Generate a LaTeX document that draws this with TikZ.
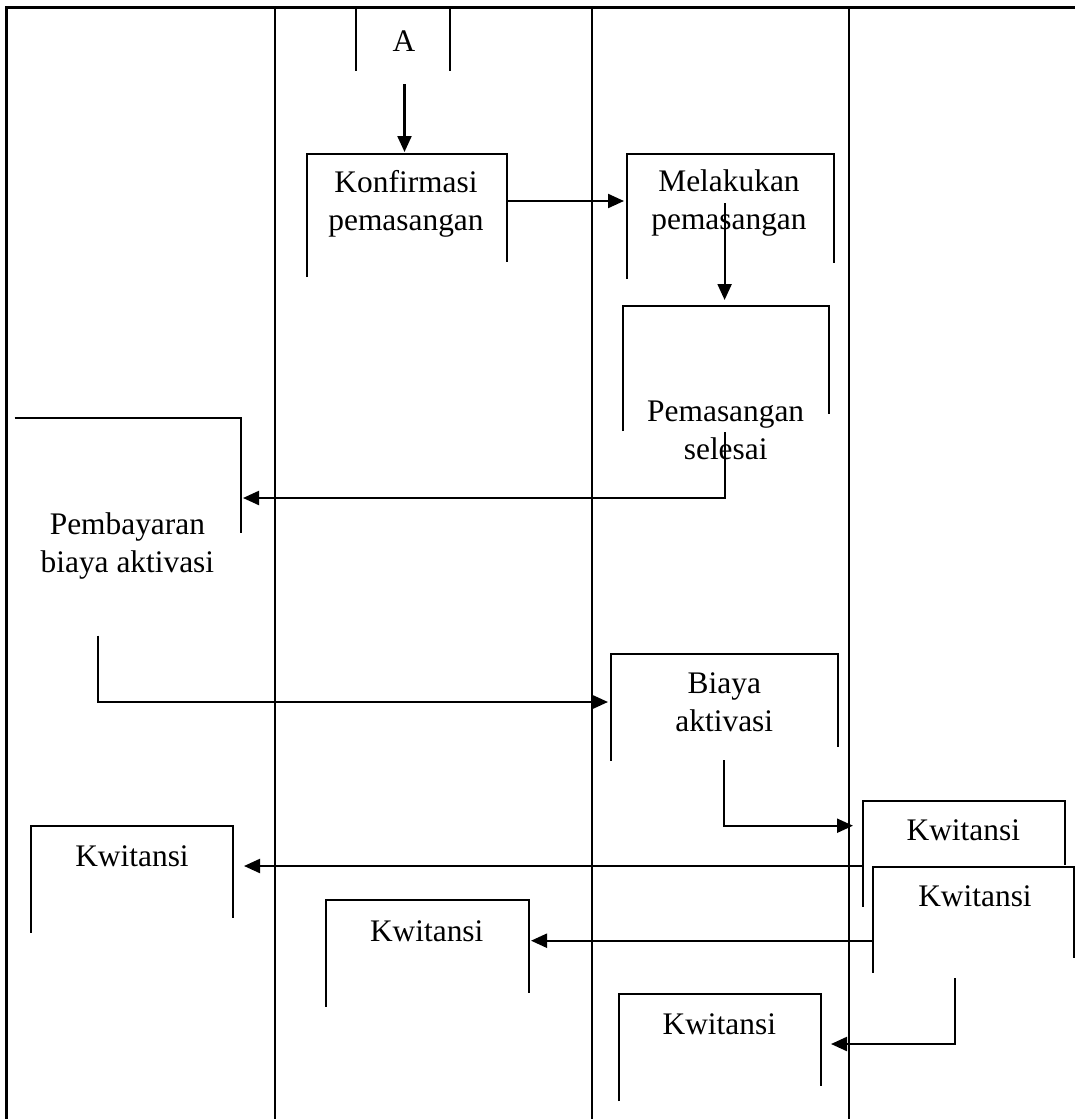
\documentclass[tikz,border=0pt]{standalone}
\usepackage{fontspec}
\setmainfont{Liberation Serif}
\usetikzlibrary{arrows.meta}
\begin{document}
\begin{tikzpicture}[x=1pt,y=-1pt,
  frame/.style={line width=3pt},
  lane/.style={line width=2.4pt},
  boxline/.style={line width=2pt},
  flow/.style={line width=2.2pt,-{Triangle[length=16pt,width=14pt]}},
  lbl/.style={font=\fontsize{31.4}{38}\selectfont, align=center, inner sep=0pt, anchor=base}]
\useasboundingbox (0,0) rectangle (1075,1119);
% frame and lanes
\draw[frame] (6.5,1119) -- (6.5,7) -- (1075,7);
\draw[lane] (275,7) -- (275,1119);
\draw[lane] (592,7) -- (592,1119);
\draw[lane] (849,7) -- (849,1119);
% off-page connector A
\draw[boxline] (356,7) -- (356,71);
\draw[boxline] (450,7) -- (450,71);
\node[lbl] (tA) at (404,51.7) {A};
% Konfirmasi pemasangan
\draw[boxline] (307,277) -- (307,153.5) -- (507,153.5) -- (507,262);
\node[lbl] (tKonf) at (406,230.7) {Konfirmasi\\pemasangan};
% Melakukan pemasangan
\draw[boxline] (627,279) -- (627,153.5) -- (834,153.5) -- (834,262.5);
\node[lbl] (tMel) at (729,229.7) {Melakukan\\pemasangan};
% Pemasangan selesai
\draw[boxline] (622.7,431) -- (622.7,305.7) -- (829.3,305.7) -- (829.3,414);
\node[lbl] (tSel) at (725.7,459.7) {Pemasangan\\selesai};
% Pembayaran biaya aktivasi
\draw[boxline] (14.5,417.7) -- (241,417.7) -- (241,532.7);
\node[lbl] (tBayar) at (127.4,572) {Pembayaran\\biaya aktivasi};
% Biaya aktivasi
\draw[boxline] (611,760.7) -- (611,654) -- (837.7,654) -- (837.7,746.7);
\node[lbl] (tBiaya) at (724.3,731) {Biaya\\aktivasi};
% Kwitansi right 1
\draw[boxline] (863.3,906.7) -- (863.3,800.7) -- (1065,800.7) -- (1065,865);
\node[lbl] (tKw1) at (963.3,840.7) {Kwitansi};
% Kwitansi right 2 (on top)
\fill[white] (873.3,866.7) rectangle (1074.3,972.7);
\draw[boxline] (873.3,972.7) -- (873.3,866.7) -- (1074.3,866.7) -- (1074.3,958);
\node[lbl] (tKw2) at (975,906.7) {Kwitansi};
% Kwitansi left
\draw[boxline] (30.6,932.7) -- (30.6,826) -- (232.7,826) -- (232.7,918.3);
\node[lbl] (tKwL) at (132,866.7) {Kwitansi};
% Kwitansi middle
\draw[boxline] (326.4,1006.7) -- (326.4,900) -- (529,900) -- (529,992.7);
\node[lbl] (tKwM) at (426.7,941.7) {Kwitansi};
% Kwitansi bottom
\draw[boxline] (619,1101) -- (619,994) -- (820.7,994) -- (820.7,1086);
\node[lbl] (tKwB) at (719.3,1034.3) {Kwitansi};
% connector end points
\coordinate (aOut) at (404.5,84);
\coordinate (konfIn) at (404.5,152);
\coordinate (konfOut) at (507,201);
\coordinate (melIn) at (624,201);
\coordinate (melOut) at (724.6,203);
\coordinate (selIn) at (724.6,300);
\coordinate (selOut) at (725,432);
\coordinate (selBend) at (725,498);
\coordinate (bayarIn) at (243,498);
\coordinate (bayarOut) at (98,635.7);
\coordinate (bayarBend) at (98,702);
\coordinate (biayaIn) at (608,702);
\coordinate (biayaOut) at (724.3,760);
\coordinate (biayaBend) at (724.3,825.7);
\coordinate (kwOneIn) at (853,825.7);
\coordinate (kwOneOut) at (863.3,866);
\coordinate (kwLIn) at (244,866);
\coordinate (kwTwoOut) at (873.3,940.7);
\coordinate (kwMIn) at (531,940.7);
\coordinate (kwTwoBot) at (955,978);
\coordinate (kwTwoBend) at (955,1044);
\coordinate (kwBIn) at (831,1044);
% connectors
\draw[flow] (aOut) -- (konfIn);
\draw[flow] (konfOut) -- (melIn);
\draw[flow] (melOut) -- (selIn);
\draw[flow] (selOut) -- (selBend) -- (bayarIn);
\draw[flow] (bayarOut) -- (bayarBend) -- (biayaIn);
\draw[flow] (biayaOut) -- (biayaBend) -- (kwOneIn);
\draw[flow] (kwOneOut) -- (kwLIn);
\draw[flow] (kwTwoOut) -- (kwMIn);
\draw[flow] (kwTwoBot) -- (kwTwoBend) -- (kwBIn);
\end{tikzpicture}
\end{document}
